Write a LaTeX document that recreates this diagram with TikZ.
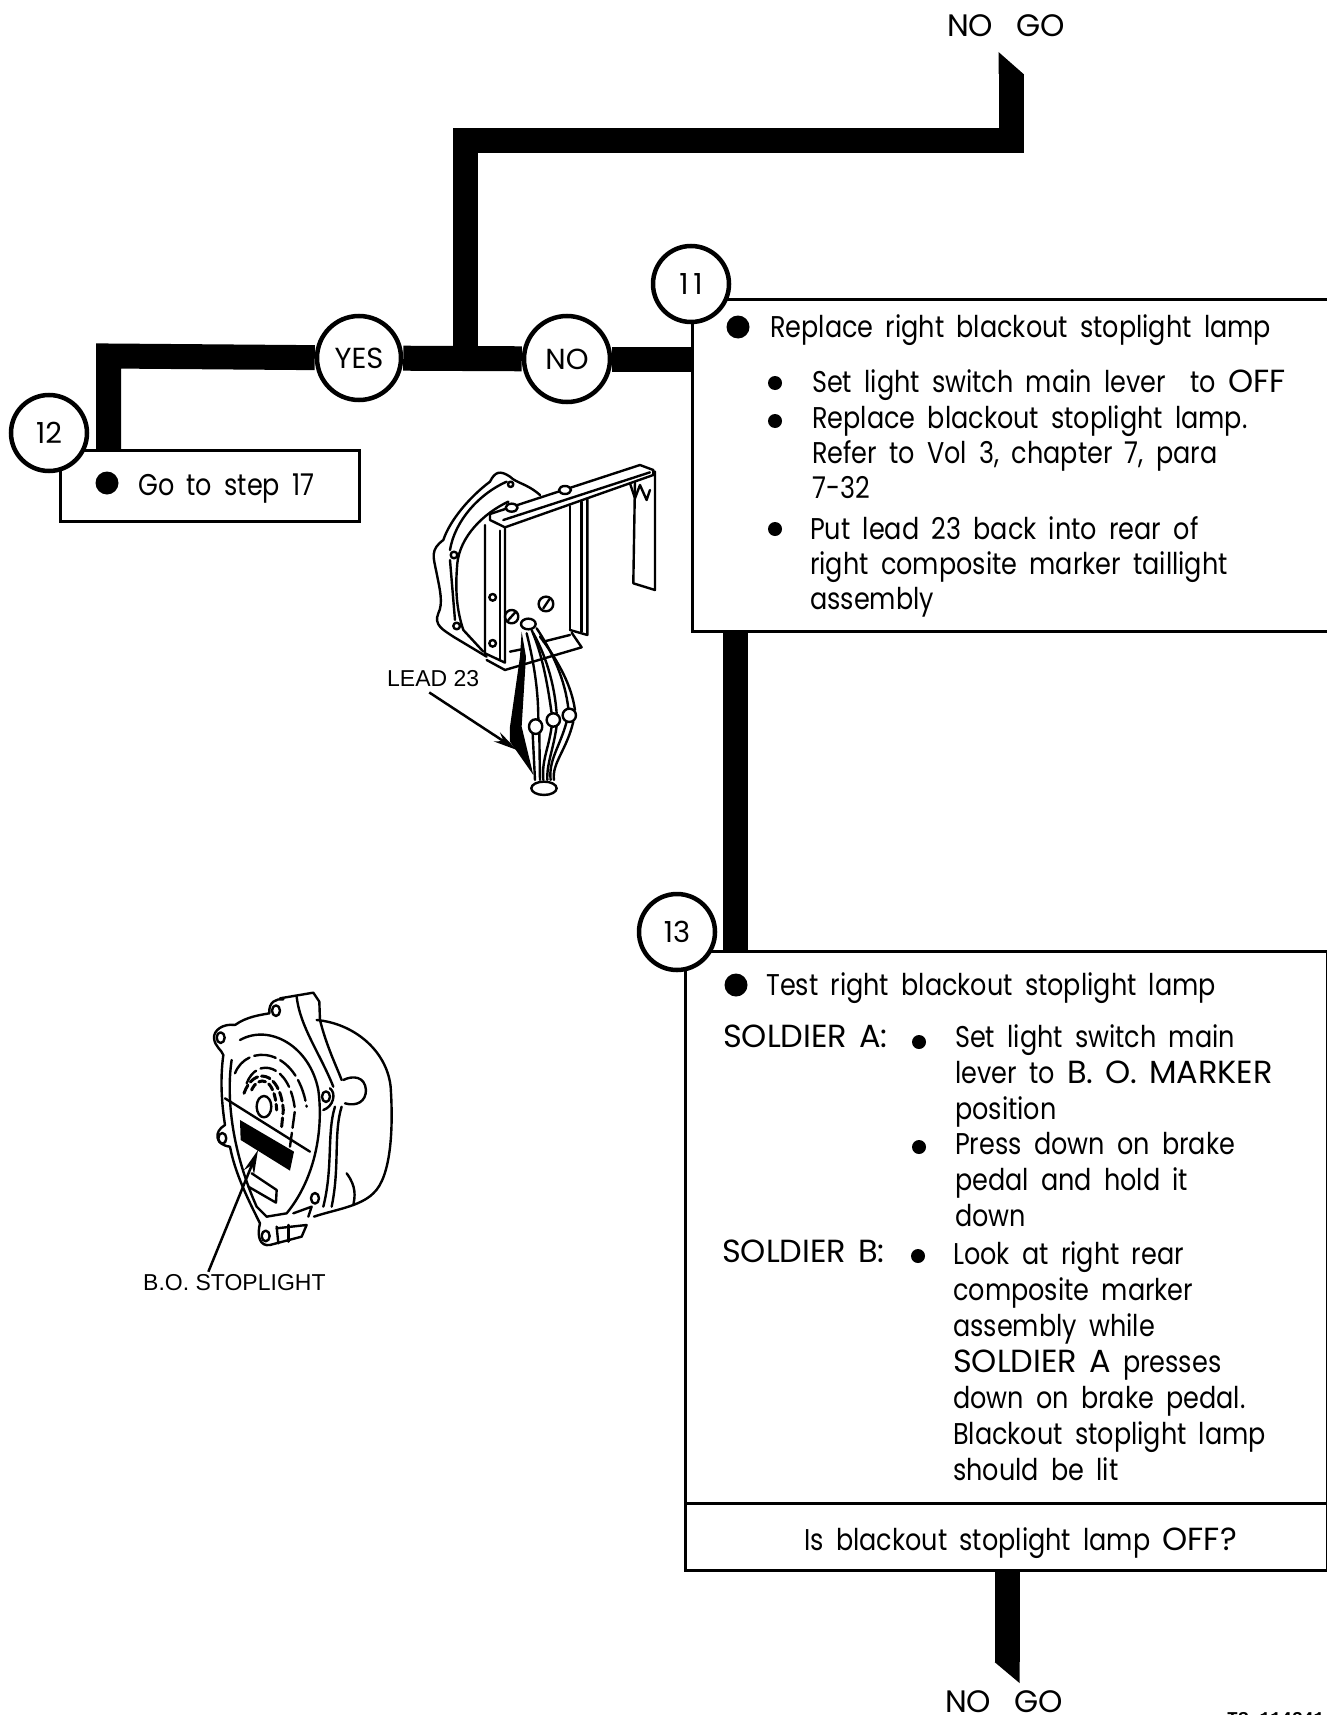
\documentclass[tikz,border=0pt]{standalone}
\usepackage{fontspec}
\newfontfamily\manualfont[FakeStretch=0.85,WordSpace=1.8]{Poppins}
\newfontfamily\capsfont[FakeStretch=1.0,WordSpace=1.4]{Poppins}
\newfontfamily\calloutfont{Liberation Sans}
\newfontfamily\tagfont{Liberation Mono}
\newcommand{\caps}[1]{{\capsfont\fontsize{32}{36}\selectfont #1}}
\usetikzlibrary{arrows.meta,positioning,calc}

\begin{document}
\begin{tikzpicture}[x=1pt, y=-1pt,
    stepbox/.style={draw, line width=3pt, fill=white, anchor=north west, inner sep=0pt},
    stepmark/.style={draw, circle, line width=4.5pt, fill=white, minimum size=76pt, inner sep=0pt,
                font=\capsfont\fontsize{29}{34}\selectfont},
    txt/.style={anchor=base west, inner sep=0pt, align=left,
                font=\manualfont\fontsize{30}{36}\selectfont},
    txtclose/.style={txt, font=\manualfont\fontsize{30}{35}\selectfont},
    bigdot/.style={circle, fill=black, minimum size=23pt, inner sep=0pt},
    smalldot/.style={circle, fill=black, minimum size=14pt, inner sep=0pt},
    flow/.style={line width=25pt, line join=miter},
    callout/.style={anchor=base west, inner sep=0pt, font=\calloutfont\fontsize{23}{26}\selectfont},
    leader/.style={-{Stealth[length=24pt,width=11pt]}, line width=2.5pt},
    ink/.style={line width=2.4pt, line join=round, line cap=round}
  ]
    \useasboundingbox (0,0) rectangle (1326,1715);

    % Boxes
    \node[stepbox, minimum width=299pt, minimum height=71pt] (gobox) at (59,449) {};
    \node[stepbox, minimum width=650pt, minimum height=332pt] (rbox) at (691,298) {};
    \node[stepbox, minimum width=642pt, minimum height=552pt] (tbox) at (684,950) {};
    \node[stepbox, minimum width=642pt, minimum height=67pt] (qbox) at (684,1502) {};

    % Step numbers and answers
    \node[stepmark] (s12) at (49,433) {12};
    \node[stepmark] (s11) at (691,284) {1\,1};
    \node[stepmark] (s13) at (677,932) {13};
    \node[stepmark, minimum size=84pt] (yes) at (359,358) {YES};
    \node[stepmark, minimum size=86pt] (no) at (567,359) {NO};

    % Flow lines
    \coordinate (elbow) at (108.5,356);
    \coordinate (tee) at (465,358);
    \coordinate (bend) at (465,140.5);
    \coordinate (turn) at (1011,140.5);
    \coordinate (topend) at (1011,74);
    \coordinate (lowstart) at (1007,1569);
    \coordinate (lowend) at (1007,1662);
    \draw[flow] (gobox.north -| elbow) -- (elbow) -- (yes);
    \draw[flow] (yes) -- (no);
    \draw[flow] (no) -- (rbox.west |- no);
    \draw[flow] (tee) -- (bend) -- (turn) -- (topend);
    \draw[flow] (rbox.south -| 735,0) -- (tbox.north -| 735,0);
    \draw[flow] (qbox.south -| lowstart) -- (lowend);
    \fill ($(topend)+(-12.5,0)$) -- ($(topend)+(-12.5,-22)$) -- ($(topend)+(12.5,0)$) -- cycle;
    \fill ($(lowend)+(-12.5,0)$) -- ($(lowend)+(12.5,21)$) -- ($(lowend)+(12.5,0)$) -- cycle;

    % Ends
    \node[anchor=base, inner sep=0pt, font=\capsfont\fontsize{31}{34}\selectfont] (nogotop) at (1006,37) {NO\ \ GO};
    \node[anchor=base, inner sep=0pt, font=\capsfont\fontsize{31}{34}\selectfont] (nogolow) at (1004,1712) {NO\ \ GO};
    \node[anchor=base west, inner sep=0pt, font=\tagfont\bfseries\fontsize{18}{20}\selectfont] (tag) at (1227,1724) {TS 114341};

    % Step 12 text
    \node[bigdot] (d12) at (107,483) {};
    \node[txt] (t12) at (138,495) {Go to step 17};

    % Step 11 text
    \node[bigdot] (d11) at (738,327) {};
    \node[txt] (t11) at (770,337) {Replace right blackout stoplight lamp};
    \node[smalldot] (d11a) at (775,383) {};
    \node[txt] (t11a) at (812,392) {Set light switch main lever\ \ to \caps{OFF}};
    \node[smalldot] (d11b) at (775,421) {};
    \node[txtclose] (t11b) at (812,498) {Replace blackout stoplight lamp.\\Refer to Vol 3, chapter 7, para\\7-32};
    \node[smalldot] (d11c) at (775,529) {};
    \node[txtclose] (t11c) at (810,609) {Put lead 23 back into rear of\\right composite marker taillight\\assembly};

    % Step 13 text
    \node[bigdot] (d13) at (736,985) {};
    \node[txt] (t13) at (766,995) {Test right blackout stoplight lamp};
    \node[txt] (sa) at (723,1047) {\caps{SOLDIER A:}};
    \node[smalldot] (d13a) at (919,1042) {};
    \node[txt] (t13a) at (955,1119) {Set light switch main\\lever to \caps{B. O. MARKER}\\position};
    \node[smalldot] (d13b) at (919,1147) {};
    \node[txt] (t13b) at (955,1226) {Press down on brake\\pedal and hold it\\down};
    \node[txt] (sb) at (722,1262) {\caps{SOLDIER B:}};
    \node[smalldot] (d13c) at (918,1256) {};
    \node[txt] (t13c) at (953,1480) {Look at right rear\\composite marker\\assembly while\\\caps{SOLDIER A} presses\\down on brake pedal.\\Blackout stoplight lamp\\should be lit};
    \node[txt] (q13) at (804,1550) {Is blackout stoplight lamp \caps{OFF?}};

    % Lamp seen from the rear with its bracket
    \begin{scope}[xshift=340pt, yshift=-440pt, x=0.3333pt, y=-0.3333pt, ink]
      \draw (600,165) .. controls (560,130) and (530,130) .. (510,110) .. controls (480,90) and (465,95) .. (450,125)
        .. controls (390,170) and (330,240) .. (310,300) .. controls (270,330) and (280,350) .. (290,400)
        .. controls (300,450) and (310,490) .. (295,520) .. controls (280,555) and (310,570) .. (340,590) -- (440,650);
      \draw (500,125) .. controls (420,160) and (345,240) .. (330,330);
      \draw (505,185) .. controls (430,220) and (360,290) .. (352,370) .. controls (345,450) and (350,510) .. (370,570) -- (430,635);
      \draw (330,360) -- (345,540);
      \draw (512,133) circle (8);
      \draw (342,345) circle (10);
      \draw (350,558) circle (10);
      \draw (458,472) circle (10);
      \draw (458,610) circle (10);
      % bracket
      \draw (450,222) -- (900,75) -- (940,90) -- (940,105) -- (495,262) -- (450,240) -- cycle;
      \draw (490,240) -- (930,97);
      \draw (435,255) -- (435,640) -- (495,668) -- (495,262);
      \draw (480,272) -- (480,660);
      \draw (690,198) -- (690,570);
      \draw (725,185) -- (725,575);
      \draw (742,178) -- (742,585) -- (690,570);
      \draw (440,660) -- (495,690) -- (725,622) -- (695,578);
      \draw (510,635) -- (545,628);
      \draw (610,605) -- (690,585);
      \draw (885,128) -- (880,430) -- (945,450) -- (945,95);
      \draw (870,130) -- (885,175) -- (900,135) -- (920,180) -- (930,150);
      % studs
      \draw[fill=white] (515,203) ellipse (18 and 12);
      \draw[fill=white] (675,150) ellipse (18 and 12);
      \draw (618,492) circle (22);
      \draw (610,505) -- (628,478);
      \draw (515,530) circle (20);
      \draw (505,540) -- (525,518);
      % wires
      \draw[fill=white] (565,552) ellipse (22 and 16);
      \draw (575,570) .. controls (610,650) and (625,750) .. (635,820);
      \draw (590,565) .. controls (640,640) and (675,720) .. (685,805);
      \draw (560,580) .. controls (585,680) and (595,760) .. (595,840);
      \draw (580,580) .. controls (625,660) and (645,750) .. (650,820);
      \draw (600,590) .. controls (660,670) and (695,740) .. (705,810);
      \fill (545,575) -- (558,650) -- (545,860) -- (580,1005) -- (510,905) -- (510,860) -- (540,650) -- cycle;
      \draw[fill=white] (587,860) ellipse (20 and 22);
      \draw[fill=white] (640,840) ellipse (20 and 20);
      \draw[fill=white] (688,826) ellipse (20 and 20);
      \draw (578,880) -- (585,1020);
      \draw (598,880) -- (600,1020);
      \draw (635,860) .. controls (625,930) and (605,960) .. (610,1020);
      \draw (650,858) .. controls (640,930) and (620,970) .. (622,1020);
      \draw (680,845) .. controls (660,920) and (625,960) .. (632,1020);
      \draw (700,845) .. controls (680,930) and (635,970) .. (642,1020);
      \draw[fill=white] (612,1045) ellipse (38 and 20);
    \end{scope}
    \node[callout] (lead) at (387,686) {LEAD 23};
    \coordinate (leadtip) at (517,750);
    \draw[leader] ($(lead.south)+(-4,6)$) -- (leadtip);

    % Lamp seen from the front
    \begin{scope}[xshift=120pt, yshift=-960pt, x=0.3333pt, y=-0.3333pt, ink]
      \draw (590,180) .. controls (700,190) and (800,270) .. (812,380) .. controls (820,500) and (815,650) .. (760,700)
        .. controls (720,740) and (640,750) .. (582,770);
      \draw (480,115) -- (580,98) -- (598,125) -- (600,180) .. controls (620,260) and (650,320) .. (665,360);
      \draw (530,110) .. controls (540,200) and (600,280) .. (640,380);
      \draw (345,195) .. controls (310,190) and (280,210) .. (282,235) .. controls (285,260) and (305,270) .. (310,285);
      \draw (345,195) .. controls (380,170) and (420,165) .. (448,160) .. controls (445,125) and (470,115) .. (490,118);
      \draw (310,285) .. controls (300,360) and (305,430) .. (315,495) .. controls (280,515) and (285,555) .. (330,560)
        .. controls (345,640) and (385,720) .. (420,790) .. controls (410,830) and (420,860) .. (450,855) -- (545,830) -- (560,795) -- (470,805);
      \draw (360,240) .. controls (450,190) and (570,260) .. (595,390) .. controls (610,500) and (590,650) .. (500,760) -- (440,770);
      \draw (335,300) .. controls (320,400) and (330,560) .. (410,740) -- (440,770);
      \draw (630,385) .. controls (650,400) and (640,440) .. (610,450);
      \draw (468,152) ellipse (12 and 16);
      \draw (302,233) ellipse (12 and 16);
      \draw (618,410) ellipse (12 and 16);
      \draw (307,535) ellipse (12 and 16);
      \draw (585,715) ellipse (12 and 16);
      \draw (437,828) ellipse (12 and 16);
      \draw (670,360) .. controls (700,345) and (735,350) .. (738,390) .. controls (738,425) and (710,440) .. (675,430);
      \draw (645,440) .. controls (620,520) and (640,620) .. (610,740);
      \draw (665,440) .. controls (640,520) and (660,620) .. (635,740);
      \draw (680,640) .. controls (710,680) and (705,710) .. (700,735);
      \draw (315,415) -- (570,575);
      \draw[dash pattern=on 22pt off 5pt] (345,340) .. controls (380,250) and (530,260) .. (560,440);
      \draw[dash pattern=on 16pt off 5pt] (380,370) .. controls (410,290) and (510,310) .. (525,450) -- (510,560);
      \draw[dash pattern=on 9pt off 4pt, line width=3pt] (372,400) .. controls (400,320) and (480,330) .. (490,450) -- (485,500);
      \draw[dash pattern=on 7pt off 4pt, line width=3pt] (395,390) .. controls (415,345) and (465,350) .. (470,450);
      \draw (432,440) ellipse (22 and 32);
      \fill (360,480) -- (522,575) -- (510,632) -- (362,540) -- cycle;
      \draw (395,640) -- (470,690) -- (468,728) -- (385,680);
      \draw (470,800) -- (475,850);
      \draw (505,795) -- (505,845);
      \draw (520,760) -- (575,740) -- (565,770);
    \end{scope}
    \node[callout] (bolabel) at (143,1290) {B.O. STOPLIGHT};
    \coordinate (botip) at (258,1150);
    \draw[leader] ($(bolabel.north)+(-26,-2)$) -- (botip);
  \end{tikzpicture}
\end{document}
